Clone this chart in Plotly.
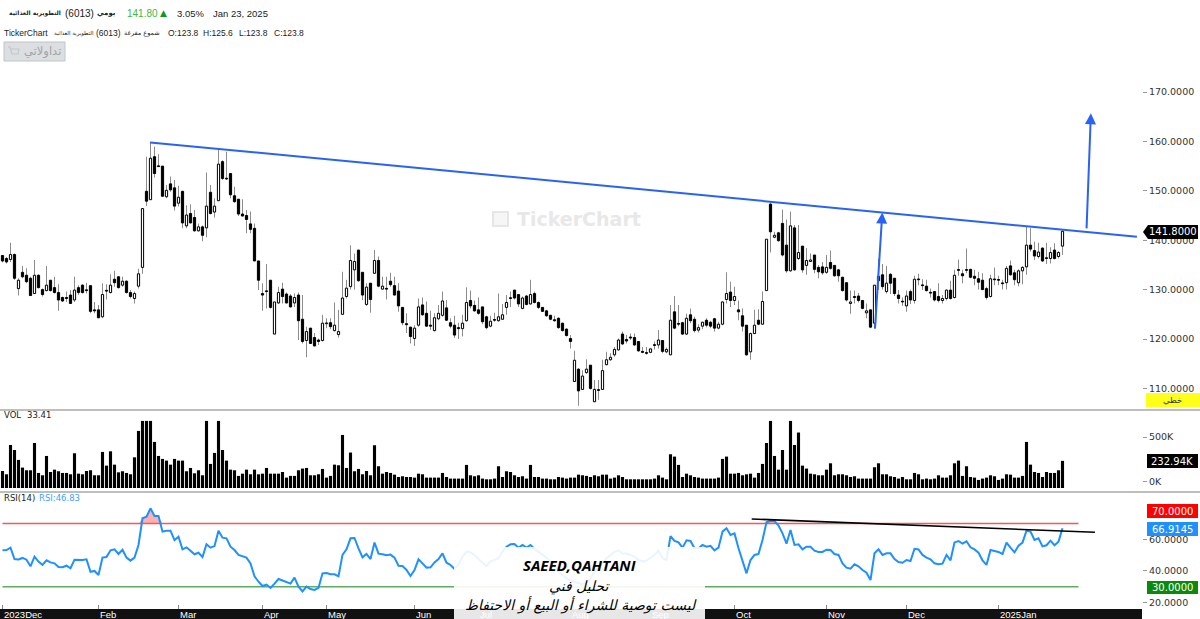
import plotly.graph_objects as go

W, H = 1200, 619

opens = [
    136.9,136.3,136.1,137.1,130.2,133.5,132.9,132.3,129.2,132.9,
    130.0,129.8,131.9,130.4,129.4,128.4,128.4,128.9,127.9,130.4,
    130.9,129.9,130.8,125.9,125.9,124.5,129.8,129.4,132.1,132.6,
    130.9,131.7,129.4,128.2,130.7,134.5,149.9,148.2,156.9,155.0,
    155.0,148.8,151.4,150.6,147.5,149.9,142.9,145.4,144.6,141.9,
    142.7,142.5,149.7,145.7,148.0,155.9,152.5,153.5,149.0,148.3,
    145.3,145.0,143.3,142.4,135.8,129.2,129.7,131.9,121.0,127.3,
    130.1,129.1,128.7,127.3,128.9,124.0,119.7,122.2,120.3,119.8,
    119.7,123.1,123.3,121.7,120.9,125.0,128.6,130.6,134.0,138.0,
    133.5,127.0,131.3,133.3,135.9,130.1,130.2,131.7,130.8,129.7,
    126.4,123.1,122.4,120.1,122.8,126.9,125.2,122.8,121.7,124.1,
    124.8,126.3,123.3,122.8,122.3,122.1,123.7,127.8,126.8,125.9,
    126.5,124.5,122.6,123.9,123.7,124.0,126.4,128.3,129.9,129.0,
    126.2,128.7,127.1,129.2,127.4,126.4,125.7,124.8,123.9,124.2,
    123.2,122.0,120.1,111.4,113.9,109.8,113.2,114.7,107.3,109.7,
    109.8,114.8,115.8,116.8,117.8,121.0,119.9,120.4,120.3,119.5,
    117.5,117.2,117.3,118.8,118.8,119.7,117.4,116.8,125.5,123.1,
    123.3,121.0,124.9,124.0,121.8,122.6,123.8,123.4,124.1,122.2,
    123.0,128.0,129.5,127.8,125.9,124.7,122.8,117.4,121.1,123.8,
    123.0,129.8,147.3,140.6,141.5,143.4,139.0,133.8,142.5,136.3,
    138.8,134.9,135.7,137.0,134.5,134.6,133.5,135.5,134.9,134.0,
    132.5,131.4,127.2,128.6,128.7,127.8,125.3,125.9,123.2,131.8,
    133.0,129.6,133.1,132.3,128.9,127.6,126.7,129.6,127.8,132.1,
    130.9,130.7,129.4,129.6,128.6,127.8,128.2,129.9,128.4,134.0,
    133.2,134.0,134.1,132.7,132.2,131.9,130.2,128.6,132.1,132.0,
    131.3,131.4,134.8,133.4,131.4,133.8,134.6,139.0,137.9,136.7,
    138.4,136.4,136.3,138.0,136.7,138.8,
]
closes = [
    135.8,135.6,137.1,132.3,131.9,132.6,131.6,128.8,132.9,130.4,
    129.0,130.9,129.8,129.4,127.9,127.7,128.2,127.2,129.9,129.4,
    129.4,129.8,125.6,125.7,124.3,129.0,129.7,130.9,131.4,130.4,
    131.7,129.4,128.6,129.2,133.2,146.4,147.9,156.6,153.5,154.9,
    148.9,150.1,150.2,146.9,148.7,143.5,145.1,143.5,141.9,142.7,
    141.0,146.9,145.4,146.9,155.4,152.5,152.4,149.2,147.8,145.3,
    144.9,144.2,142.2,135.8,131.9,128.9,129.6,126.4,127.5,129.4,
    128.6,127.3,126.5,128.4,123.7,119.5,121.5,119.1,118.6,119.5,
    123.2,123.2,122.5,122.8,121.5,128.3,130.3,135.9,135.7,131.8,
    128.9,130.5,128.0,135.9,130.7,130.7,130.1,131.0,128.9,126.7,
    123.3,122.9,120.5,122.2,126.5,124.9,122.6,122.6,124.3,125.2,
    127.7,123.8,122.6,120.8,122.1,123.2,127.4,126.7,125.7,125.2,
    123.5,122.3,123.6,123.8,124.5,124.9,127.4,128.2,128.3,127.1,
    128.3,127.0,129.0,127.4,126.4,125.6,124.7,124.0,123.7,122.3,
    121.7,120.7,119.5,115.7,109.5,112.5,113.9,110.0,109.8,109.6,
    113.6,115.8,116.3,117.9,119.8,119.0,119.6,120.2,118.8,117.6,
    117.3,117.1,118.0,118.7,119.8,117.5,117.9,123.8,122.2,123.0,
    121.0,124.2,123.7,121.7,122.3,123.4,122.8,122.6,122.2,123.0,
    127.5,129.2,127.8,128.6,125.5,122.6,116.8,121.1,122.8,123.0,
    127.6,140.2,141.7,141.0,139.9,137.0,133.8,142.9,134.0,137.5,
    134.0,135.9,136.0,134.1,133.6,133.4,134.5,134.3,132.8,132.8,
    129.8,127.9,127.5,128.4,127.8,126.2,125.7,122.4,130.9,132.7,
    130.6,131.3,131.3,129.2,128.2,127.5,128.7,127.9,132.1,132.0,
    130.8,129.8,129.3,127.9,127.8,128.2,129.9,128.2,132.9,133.9,
    132.8,133.9,132.5,132.3,131.5,130.0,128.4,132.2,132.0,131.9,
    131.2,134.3,133.0,132.0,133.8,134.5,139.0,138.2,136.8,137.6,
    135.8,136.3,137.5,136.3,137.5,141.8,
]
highs = [
    137.0,136.6,139.5,137.3,132.3,134.8,134.3,132.6,136.0,133.1,
    130.2,134.8,131.9,132.6,131.1,128.6,129.6,129.9,132.6,130.9,
    131.1,131.4,130.8,127.5,126.9,131.3,131.1,133.1,133.8,132.6,
    132.6,131.9,129.9,129.6,134.2,146.4,156.9,159.9,158.9,157.4,
    155.0,151.2,152.9,152.2,151.0,149.9,147.1,147.3,146.1,143.4,
    143.0,153.7,151.2,148.5,158.5,156.2,157.9,153.5,150.8,148.3,
    148.3,146.1,145.8,143.4,135.8,131.3,135.2,131.9,127.5,130.6,
    131.4,129.4,129.1,129.2,129.4,128.9,122.5,122.2,121.2,120.1,
    124.9,124.2,124.2,127.4,125.9,133.6,132.0,139.0,137.3,138.0,
    133.5,131.3,131.3,138.0,136.7,132.6,132.6,133.4,132.6,131.3,
    126.4,125.2,122.5,122.8,128.2,128.4,127.6,125.7,125.2,126.9,
    129.6,127.9,124.2,124.7,123.3,124.9,130.5,129.8,127.8,128.4,
    126.5,124.7,124.7,125.3,129.2,127.1,128.9,129.6,129.9,129.0,
    128.6,128.9,132.0,129.6,127.6,126.5,125.9,124.9,124.7,124.4,
    123.3,122.2,120.8,117.6,114.1,113.7,115.9,114.7,111.7,111.7,
    115.8,117.4,117.1,118.4,120.1,121.5,120.8,121.1,121.1,119.5,
    118.4,118.4,118.1,119.5,121.8,119.8,118.3,126.9,128.7,126.9,
    123.5,125.1,126.2,124.5,123.0,123.5,124.2,123.7,124.3,123.5,
    127.6,133.5,131.6,130.6,127.8,126.2,122.8,121.3,125.9,126.0,
    129.6,140.2,147.6,141.7,141.7,146.2,144.2,145.8,143.1,143.1,
    138.8,138.4,137.3,137.0,135.0,135.6,137.0,137.9,135.0,134.1,
    132.6,131.4,129.8,129.8,129.3,127.9,127.2,125.9,130.9,136.3,
    135.2,134.8,133.3,132.3,129.9,128.4,129.8,130.0,132.8,133.2,
    132.1,132.0,130.2,129.6,131.3,128.9,130.0,131.8,134.0,136.1,
    134.0,138.3,134.2,134.0,133.6,133.3,130.6,133.0,134.5,132.8,
    132.0,134.8,135.9,134.0,134.1,134.8,142.9,142.4,139.7,139.5,
    138.6,139.5,138.6,139.4,137.8,142.0,
]
lows = [
    135.5,135.3,135.6,132.0,128.8,132.3,131.3,128.8,129.1,130.2,
    128.6,129.6,129.6,129.2,125.7,127.5,127.5,127.1,127.5,128.9,
    129.2,129.2,125.2,125.2,124.2,124.2,128.0,129.2,130.6,130.2,
    130.6,129.2,128.2,127.2,130.2,133.2,146.9,148.2,152.7,154.9,
    148.8,148.5,149.8,146.0,146.8,142.4,142.4,143.4,141.7,141.7,
    139.8,140.6,145.2,144.6,148.0,152.2,152.2,148.5,147.6,144.9,
    144.8,141.4,141.4,135.8,129.9,125.7,126.2,126.2,121.0,127.1,
    127.2,127.2,126.4,126.5,119.8,119.1,116.3,119.0,118.5,118.8,
    119.5,122.2,122.0,121.5,120.3,124.9,128.2,130.0,130.0,131.6,
    127.9,126.7,125.3,133.2,130.5,130.0,128.0,130.6,128.8,125.5,
    122.8,121.2,119.1,118.6,122.5,124.7,122.5,121.8,121.5,123.8,
    124.5,123.7,122.2,120.2,120.0,120.5,123.5,126.2,125.5,124.9,
    123.0,122.0,122.4,123.5,123.5,123.9,124.9,126.5,128.0,126.5,
    126.0,126.8,127.0,127.2,126.1,125.5,124.5,123.8,123.5,122.1,
    121.5,120.5,118.1,111.4,106.5,109.7,112.9,109.8,107.3,107.7,
    109.7,114.7,115.6,116.4,117.6,118.8,119.1,119.8,118.6,117.4,
    117.1,116.8,117.1,117.9,118.1,117.1,117.1,116.7,122.0,122.6,
    120.8,120.8,123.2,121.3,121.3,122.0,122.4,122.2,121.5,122.0,
    122.8,127.2,126.5,126.9,123.8,121.5,116.6,115.8,121.0,122.8,
    122.9,129.7,137.5,140.4,139.7,136.7,133.4,133.6,133.8,136.0,
    133.4,133.0,135.6,133.3,132.3,133.0,133.2,134.0,132.6,131.6,
    129.6,127.6,125.1,127.2,127.4,126.0,124.2,122.2,122.2,129.9,
    130.0,129.2,129.1,128.7,127.2,126.7,125.5,127.1,127.2,130.9,
    129.9,129.6,128.4,127.6,127.4,127.2,127.8,128.0,128.2,132.8,
    131.3,133.3,132.3,130.9,130.0,129.9,128.0,128.4,130.9,130.9,
    130.0,130.0,132.8,130.9,130.7,131.1,133.0,137.7,136.0,136.3,
    135.6,135.2,135.3,136.1,136.3,137.0,
]
# volume in thousands, the tall bars are cut at the pane top in the original
volumes = [
    120,83,411,355,244,158,128,128,433,98,
    72,288,109,135,117,98,98,83,318,90,
    83,120,128,72,72,333,180,340,191,105,
    117,98,83,273,568,680,680,680,445,288,
    255,236,191,255,236,236,117,154,94,128,
    72,680,199,322,680,355,236,135,128,65,
    90,135,83,135,83,90,154,90,90,90,
    109,46,65,65,128,147,154,72,72,83,
    143,46,65,191,184,523,154,326,117,143,
    83,120,72,408,173,90,109,98,79,53,
    61,53,53,46,90,83,46,46,46,46,
    98,53,35,35,35,35,188,72,61,72,
    35,27,27,35,173,53,117,109,72,53,
    61,35,188,53,53,35,35,27,27,53,
    46,35,46,46,79,72,65,53,72,61,
    79,79,35,46,72,53,27,27,27,27,
    27,27,27,35,72,46,27,307,281,188,
    53,90,72,53,46,35,35,35,35,46,
    255,281,90,90,98,72,83,90,46,98,
    199,433,680,288,135,355,135,680,411,550,
    180,147,90,83,72,72,135,206,72,83,
    83,72,53,61,35,35,35,35,162,206,
    83,83,61,53,35,53,27,27,98,83,
    27,35,27,35,72,46,46,72,206,236,
    65,173,53,46,20,35,46,72,61,20,
    35,83,79,46,46,65,445,191,109,98,
    53,109,98,98,128,233,
]
rsi = [
    53,53.2,54.7,47.5,47.3,48.2,47.1,42.9,49,45.9,
    43.8,46.7,45.4,44.8,42.5,42.3,43.3,41.7,47.1,46.9,
    46.9,47.3,39.5,40,37.4,48.4,48.8,53,53.6,50.7,
    53.4,48.4,46.5,48.4,56.4,73.2,74.2,79.5,74.7,74.7,
    64.8,65.4,65.4,59.5,61.6,53.6,54.9,52.8,50.5,51.5,
    48.8,56.8,54.7,55.7,65.4,61,60.6,55.3,53.2,50.1,
    49.2,48.4,44.8,36.6,33.2,30.5,31.4,29.3,32,34.9,
    34,32.8,32,35.8,30.1,27.1,30.1,28.6,28,29.4,
    38.5,38.7,37.9,37.9,36.6,50.1,53.6,60.6,60.8,54.3,
    48.6,50.7,47.5,57.9,50.9,50.5,49.9,50.3,48.4,43.3,
    43.1,40.6,36.8,40.6,47.3,44.8,42.1,42.3,45.4,47.5,
    51.1,45.2,43.8,41.2,44.2,49,52.2,51.7,50.1,47.5,
    45.4,43.1,45.9,46.9,48,52.2,55.3,56.8,57,54.7,
    56.4,54.7,56.4,53.9,52.2,50.1,48.4,45.9,43.8,39.5,
    37.4,35.4,34,33,32,31.5,33,35,40,42,
    45,48,50,52,53,51,51,50,49,47,
    46,46.5,48,50,53,48,47,62,58.9,58,
    54.7,59.3,58.9,54.3,54.3,56.4,55.3,55.9,53,54.7,
    64.8,66.9,62.7,63.7,54.3,46.9,38.5,46.9,50.1,50.7,
    59.5,70.7,71.7,71.5,68.6,63.7,57.2,65.8,56.4,56.8,
    53.6,55.3,55.3,52.8,52,52,53.4,53.2,50.7,50.1,
    44.8,42.1,41.4,44.2,42.9,40.6,38.9,34.3,51.1,53.6,
    50.1,51.1,51.1,47.5,45.6,45.2,46.9,46.3,54,53.6,
    50.1,48.4,47.3,44.8,44.2,44.6,50.1,46.7,58,58.9,
    57.2,58.7,54.9,53.6,51.5,46.7,43.8,53.2,52.6,52,
    50.7,57.9,54.7,51.7,55.9,57.9,65.4,64.8,59.5,60.6,
    55.5,56.2,59.1,56.2,58.5,66.9,
]

month_bars = [0, 24, 44, 65, 81, 103, 119, 142, 162, 183, 206, 226, 249]
month_names = ["2023Dec", "Feb", "Mar", "Apr", "May", "Jun", "Jul", "Aug", "Sep",
               "Oct", "Nov", "Dec", "2025Jan"]
price_ticks = [110, 120, 130, 140, 150, 160, 170]
vol_ticks = [0, 500]
vol_tick_labels = ["0K", "500K"]
rsi_ticks = [20, 40, 60]

# hand drawn lines, bar number and value at both ends
trend_bars = [36.9, 283.6]
trend_prices = [159.8, 140.7]
arrow1_bars = [218.1, 219.95]
arrow1_prices = [121.8, 145.6]
arrow2_bars = [271, 272.1]
arrow2_prices = [142.1, 165.7]
rsi_trend_bars = [187.3, 273.1]
rsi_trend_vals = [72.8, 64.4]
rsi_level_bars = [0, 269]
rsi_hi = 70
rsi_lo = 30

VOL_FLOOR = -70
BLUE = "#2a62f5"
FONT = "DejaVu Sans"
SANS = "Liberation Sans"


def fx(px):
    return px / W


def fy(px):
    return 1 - px / H


bars = list(range(len(closes)))
body_base = [min(o, c) for o, c in zip(opens, closes)]
body_h = [max(abs(c - o), 0.15) for o, c in zip(opens, closes)]
body_col = ["white" if c > o else "black" for o, c in zip(opens, closes)]
wick_h = [h - l for h, l in zip(highs, lows)]

fig = go.Figure()

# price pane
fig.add_trace(go.Bar(x=bars, y=wick_h, base=lows, width=0.22, marker=dict(color="#8c8c8c", line_width=0),
                     yaxis="y"))
fig.add_trace(go.Bar(x=bars, y=body_h, base=body_base, width=0.55,
                     marker=dict(color=body_col, line=dict(color="black", width=1)), yaxis="y"))
fig.add_trace(go.Scatter(x=trend_bars, y=trend_prices, mode="lines", line=dict(color=BLUE, width=2), yaxis="y"))

# volume pane
fig.add_trace(go.Bar(x=bars, y=[v - VOL_FLOOR for v in volumes], base=VOL_FLOOR, width=0.78,
                     marker=dict(color="black", line_width=0), yaxis="y2"))

# rsi pane
fig.add_trace(go.Scatter(x=bars, y=[rsi_hi] * len(bars), mode="lines", line_width=0, yaxis="y3"))
fig.add_trace(go.Scatter(x=bars, y=[max(r, rsi_hi) for r in rsi], mode="lines", line_width=0,
                         fill="tonexty", fillcolor="#ffb0b0", yaxis="y3"))
fig.add_trace(go.Scatter(x=rsi_level_bars, y=[rsi_hi, rsi_hi], mode="lines", line=dict(color="#f05a5a", width=1.5),
                         yaxis="y3"))
fig.add_trace(go.Scatter(x=rsi_level_bars, y=[rsi_lo, rsi_lo], mode="lines", line=dict(color="#5fae5f", width=1.6),
                         yaxis="y3"))
fig.add_trace(go.Scatter(x=bars, y=rsi, mode="lines", line=dict(color="#1e90ff", width=2), yaxis="y3"))
fig.add_trace(go.Scatter(x=rsi_trend_bars, y=rsi_trend_vals, mode="lines", line=dict(color="black", width=1.6),
                         yaxis="y3"))

axis_font = dict(family=FONT, size=9.5, color="#333333")
tick_style = dict(side="right", anchor="x", showgrid=False, zeroline=False, showline=False, ticks="outside",
                  ticklen=4, tickcolor="#999999", tickfont=axis_font)

shapes = [
    # date strip
    dict(type="rect", xref="paper", yref="paper", x0=0, x1=fx(1142), y0=fy(619), y1=fy(609),
         fillcolor="#111111", line_width=0, layer="below"),
    # pane separators
    dict(type="line", xref="paper", yref="paper", x0=0, x1=1, y0=fy(410), y1=fy(410),
         line=dict(color="#a8a8a8", width=1.5)),
    dict(type="line", xref="paper", yref="paper", x0=0, x1=1, y0=fy(492), y1=fy(492),
         line=dict(color="#a8a8a8", width=1.5)),
    # white note box at the bottom
    dict(type="rect", xref="paper", yref="paper", x0=fx(454), x1=fx(705), y0=fy(619), y1=fy(547),
         fillcolor="white", opacity=0.9, line_width=0, layer="above"),
    # button
    dict(type="rect", xref="paper", yref="paper", x0=fx(4), x1=fx(65), y0=fy(61), y1=fy(42),
         fillcolor="#dcdfe1", line=dict(color="#bfc4c7", width=1)),
    # cart in the button
    dict(type="path", xref="paper", yref="paper", line=dict(color="#c4c8ca", width=1.2),
         path=f"M {fx(8)} {fy(47)} L {fx(10)} {fy(47)} L {fx(12)} {fy(54)} L {fx(18)} {fy(54)} L {fx(19)} {fy(49)} L {fx(10.5)} {fy(49)}"),
    # watermark logo
    dict(type="rect", xref="paper", yref="paper", x0=fx(493), x1=fx(508), y0=fy(226), y1=fy(212),
         fillcolor="#f6f6f6", line=dict(color="#e6e6e6", width=2)),
    # last price tag
    dict(type="path", xref="paper", yref="paper", fillcolor="black", line_width=0,
         path=f"M {fx(1143)} {fy(232)} L {fx(1148)} {fy(225)} L {fx(1198)} {fy(225)} L {fx(1198)} {fy(239)} L {fx(1148)} {fy(239)} Z"),
    # boxes on the right
    dict(type="rect", xref="paper", yref="paper", x0=fx(1146), x1=fx(1200), y0=fy(407), y1=fy(393),
         fillcolor="#ffff1a", line_width=0),
    dict(type="rect", xref="paper", yref="paper", x0=fx(1147), x1=fx(1198), y0=fy(468), y1=fy(454),
         fillcolor="black", line_width=0),
    dict(type="rect", xref="paper", yref="paper", x0=fx(1147), x1=fx(1198), y0=fy(518), y1=fy(504),
         fillcolor="#ff0000", line_width=0),
    dict(type="rect", xref="paper", yref="paper", x0=fx(1147), x1=fx(1198), y0=fy(536), y1=fy(522),
         fillcolor="#1e90ff", line_width=0),
    dict(type="rect", xref="paper", yref="paper", x0=fx(1147), x1=fx(1198), y0=fy(594), y1=fy(581),
         fillcolor="#0a8a0a", line_width=0),
]


def label(text, px, py, size=9, color="#222222", anchor="left", family=FONT):
    # annotations carry about 2px of padding around the text
    shift = {"left": -2, "right": 2, "center": 0}[anchor]
    return dict(text=text, xref="paper", yref="paper", x=fx(px + shift), y=fy(py), xanchor=anchor, yanchor="middle",
                showarrow=False, font=dict(family=family, size=size, color=color))


annotations = [
    # header line 1
    label("<b>التطويرية الغذائية</b>", 61, 13, 6, anchor="right"),
    label("(6013)", 65, 13, 10, family=SANS),
    label("<b>يومي</b>", 116, 13, 7, anchor="right"),
    label("141.80", 127, 13, 10, "#43b649", family=SANS),
    label("▲", 160, 13, 9, "#0a9a24"),
    label("3.05%", 177, 13, 9.5, family=SANS),
    label("Jan 23, 2025", 213, 13, 9.5, family=SANS),
    # header line 2
    label("TickerChart", 4, 33, 8.5, family=SANS),
    label("التطويرية الغذائية", 94, 33, 5.5, anchor="right"),
    label("(6013)", 96, 33, 8.5, family=SANS),
    label("شموع مفرغة", 160, 33, 6.5, anchor="right"),
    label("O:123.8", 168, 33, 8.5, family=SANS),
    label("H:125.6", 203, 33, 8.5, family=SANS),
    label("L:123.8", 239, 33, 8.5, family=SANS),
    label("C:123.8", 274, 33, 8.5, family=SANS),
    label("تداولاتي", 61, 52, 11.5, "#a0a4a6", "right"),
    # watermark
    label("<b>TickerChart</b>", 517, 219, 19, "#e8e8e8"),
    # pane titles
    label("VOL", 4, 415, 8.5),
    label("33.41", 27, 415, 8.5),
    label("RSI(14)", 4, 498, 8.5),
    label("RSI:46.83", 39, 498, 8.5, "#3fa0ff"),
    # value tags
    label("141.8000", 1173, 232, 10, "white", "center"),
    label("خطي", 1172, 400, 8.5, "#333333", "center"),
    label("232.94K", 1172, 461, 10, "white", "center"),
    label("70.0000", 1172, 511, 10, "white", "center"),
    label("66.9145", 1172, 529, 10, "white", "center"),
    label("30.0000", 1172, 587.5, 10, "white", "center"),
    # note
    label("<b><i>SAEED,QAHTANI</i></b>", 579, 565, 15, "black", "center", family="Open Sans"),
    label("<i>تحليل فني</i>", 580, 586, 14, "black", "center"),
    label("<i>ليست توصية للشراء أو البيع أو الاحتفاظ</i>", 581, 605, 14, "black", "center"),
]

for b, name in zip(month_bars, month_names):
    annotations.append(dict(text=name, xref="x", yref="paper", x=b, y=fy(614), xanchor="left", yanchor="middle",
                            xshift=-1, showarrow=False, font=dict(family=SANS, size=9.5, color="white")))

for xs, ys in ((arrow1_bars, arrow1_prices), (arrow2_bars, arrow2_prices)):
    annotations.append(dict(text="", x=xs[1], y=ys[1], ax=xs[0], ay=ys[0], xref="x", yref="y", axref="x", ayref="y",
                            showarrow=True, arrowhead=2, arrowsize=1.1, arrowwidth=2, arrowcolor=BLUE, standoff=0))

fig.update_layout(
    width=W,
    height=H,
    margin=dict(l=0, r=0, t=0, b=0),
    paper_bgcolor="white",
    plot_bgcolor="white",
    showlegend=False,
    barmode="overlay",
    hovermode=False,
    xaxis=dict(domain=[0, fx(1142)], range=[-0.625, 284.875], anchor="y3", tickmode="array", tickvals=month_bars,
               ticks="inside", ticklen=4, tickcolor="#888888", showticklabels=False, showgrid=False,
               zeroline=False, showline=False),
    yaxis=dict(domain=[fy(410), fy(68)], range=[105.63, 174.86], tickvals=price_ticks, tickformat=".4f", **tick_style),
    yaxis2=dict(domain=[fy(492), fy(410)], range=[-115, 802], tickvals=vol_ticks, ticktext=vol_tick_labels,
                **tick_style),
    yaxis3=dict(domain=[fy(609), fy(492)], range=[16.0, 89.8], tickvals=rsi_ticks, tickformat=".4f", **tick_style),
    shapes=shapes,
    annotations=annotations,
)

# the page margin would push the figure out of the window
fig.write_html("out.html", config={"displayModeBar": False},
               post_script="document.body.style.margin='0';")
